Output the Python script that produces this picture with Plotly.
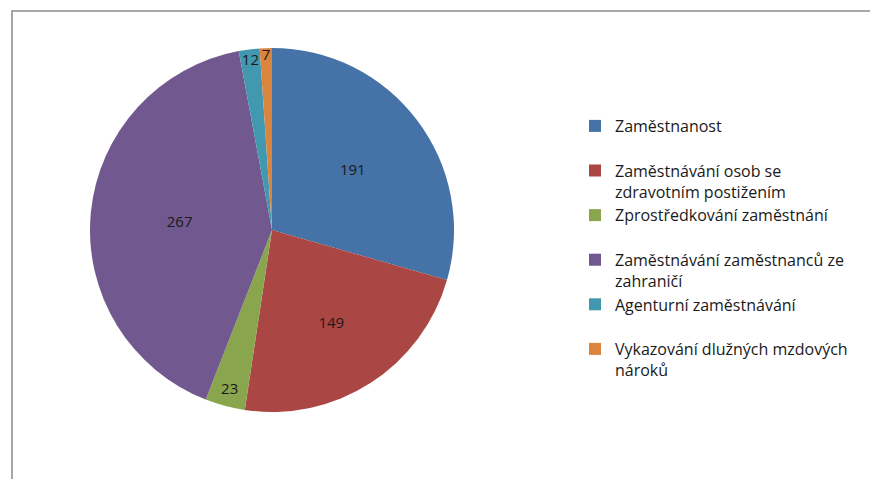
import plotly.graph_objects as go

categories = [
    "Zaměstnanost",
    "Zaměstnávání osob se<br>zdravotním postižením",
    "Zprostředkování zaměstnání",
    "Zaměstnávání zaměstnanců ze<br>zahraničí",
    "Agenturní zaměstnávání",
    "Vykazování dlužných mzdových<br>nároků",
]
values = [191, 149, 23, 267, 12, 7]
colors = ["#4572A7", "#AA4643", "#89A54E", "#71588F", "#4198AF", "#DB843D"]

W, H = 870, 479
cx, cy, R = 272, 230, 182

# pad single-line labels so every legend entry takes two lines
legend_labels = [c if "<br>" in c else c + "<br> " for c in categories]

fig = go.Figure(
    go.Pie(
        labels=legend_labels,
        values=values,
        sort=False,
        direction="clockwise",
        rotation=0,
        marker=dict(colors=colors, line=dict(width=0)),
        textinfo="value",
        textposition="inside",
        insidetextorientation="horizontal",
        textfont=dict(family="Open Sans", size=15, color="#1a1a1a"),
        domain=dict(x=[(cx - R) / W, (cx + R) / W], y=[(H - cy - R) / H, (H - cy + R) / H]),
        hoverinfo="label+value",
    )
)

fig.update_layout(
    width=W,
    height=H,
    margin=dict(l=0, r=0, t=0, b=0, autoexpand=False),
    paper_bgcolor="white",
    showlegend=True,
    uniformtext=dict(minsize=15, mode="show"),
    legend=dict(
        x=575 / W,
        y=1 - 109 / H,
        xanchor="left",
        yanchor="top",
        valign="top",
        font=dict(family="Open Sans", size=16, color="#1a1a1a"),
        itemwidth=30,
        traceorder="normal",
    ),
    shapes=[
        dict(type="rect", xref="paper", yref="paper",
             x0=12 / W, x1=1.02, y0=-0.02, y1=1 - 11 / H,
             line=dict(color="#8a8a8a", width=1.5), fillcolor="rgba(0,0,0,0)")
    ],
)

fig.write_html(
    "out.html",
    config={"displayModeBar": False},
    post_script="document.body.style.margin='0';document.body.style.padding='0';",
)
